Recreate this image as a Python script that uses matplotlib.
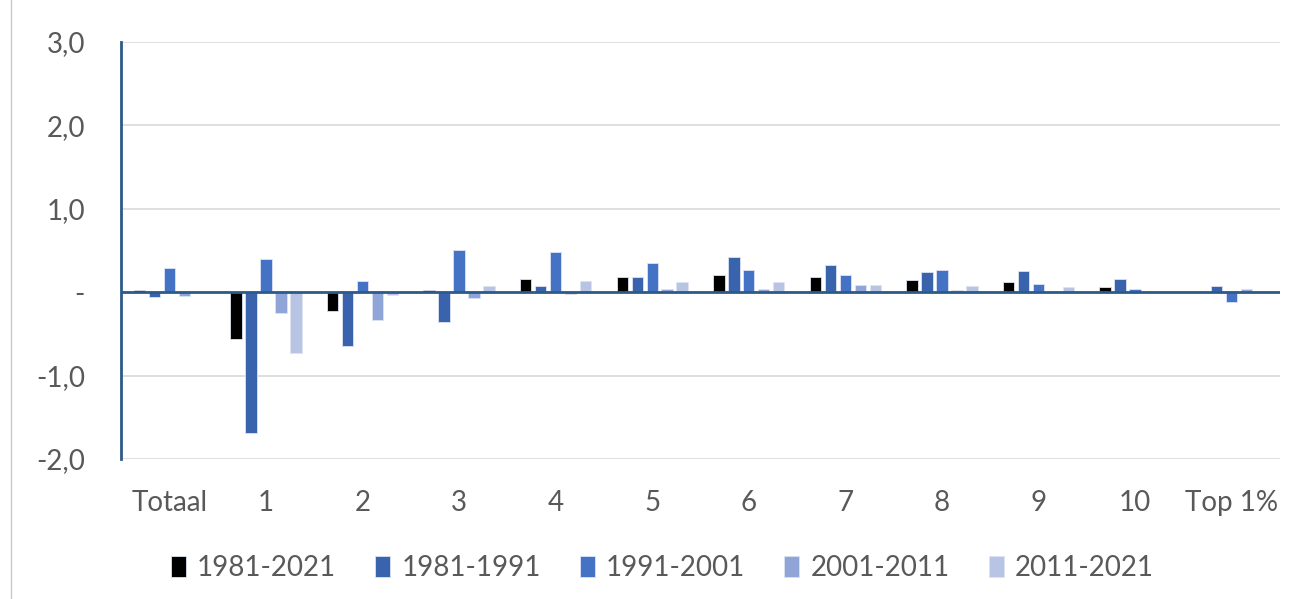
import numpy as np
import matplotlib.pyplot as plt
from matplotlib.lines import Line2D

plt.rcParams['font.family'] = ['Lato', 'DejaVu Sans']

categories = ["Totaal", "1", "2", "3", "4", "5", "6", "7", "8", "9", "10", "Top 1%"]
periods = ["1981-2021", "1981-1991", "1991-2001", "2001-2011", "2011-2021"]

v_1981_2021 = [0.03, -0.56, -0.22, 0.03, 0.16, 0.18, 0.21, 0.18, 0.15, 0.12, 0.06, 0.00]
v_1981_1991 = [-0.06, -1.69, -0.65, -0.36, 0.08, 0.18, 0.42, 0.33, 0.24, 0.26, 0.16, 0.07]
v_1991_2001 = [0.29, 0.40, 0.13, 0.51, 0.48, 0.35, 0.27, 0.21, 0.27, 0.10, 0.04, -0.12]
v_2001_2011 = [-0.05, -0.25, -0.33, -0.07, -0.02, 0.04, 0.04, 0.09, 0.03, 0.00, 0.00, 0.04]
v_2011_2021 = [0.00, -0.73, -0.03, 0.08, 0.13, 0.12, 0.12, 0.09, 0.07, 0.06, 0.02, 0.00]

series = [v_1981_2021, v_1981_1991, v_1991_2001, v_2001_2011, v_2011_2021]
colors = ["#000000", "#3A63AD", "#4472C4", "#8FA5D8", "#B8C4E4"]

fig = plt.figure(figsize=(12.96, 5.99), dpi=100)
ax = fig.add_axes([121 / 1296, 1 - 459 / 599, (1280 - 121) / 1296, (459 - 42) / 599])

x = np.arange(len(categories))
pitch = 0.155
width = 0.118
for i, (vals, col, lab) in enumerate(zip(series, colors, periods)):
    ax.bar(x + (i - 2) * pitch, vals, width, color=col, label=lab,
           edgecolor="#DCE3F2", linewidth=0.6, zorder=3)

ax.set_xlim(-0.5, len(categories) - 0.5)
ax.set_ylim(-2.0, 3.0)
ax.set_yticks([-2, -1, 0, 1, 2, 3])
ax.set_yticklabels(["-2,0", "-1,0", "-", "1,0", "2,0", "3,0"])
ax.set_xticks(x)
ax.set_xticklabels(categories)
ax.tick_params(axis="both", length=0, labelsize=20, colors="#595959")
ax.tick_params(axis="x", pad=22)
ax.tick_params(axis="y", pad=26)

ax.grid(axis="y", color="#D9D9D9", linewidth=1.2, zorder=0)
ax.axhline(0, color="#2E5A88", linewidth=2, zorder=4)
for s in ["top", "right", "bottom"]:
    ax.spines[s].set_visible(False)
ax.spines["left"].set_color("#2E5A88")
ax.spines["left"].set_linewidth(2)

ax.legend(loc="center", bbox_to_anchor=(0.467, -0.262), ncol=5, frameon=False,
          fontsize=20, handlelength=0.55, handleheight=0.8, handletextpad=0.4,
          columnspacing=1.4, labelcolor="#595959")

fig.add_artist(Line2D([11 / 1296, 11 / 1296], [0, 1], color="#C8C8C8", linewidth=1))

fig.savefig("out.png", dpi=100)
